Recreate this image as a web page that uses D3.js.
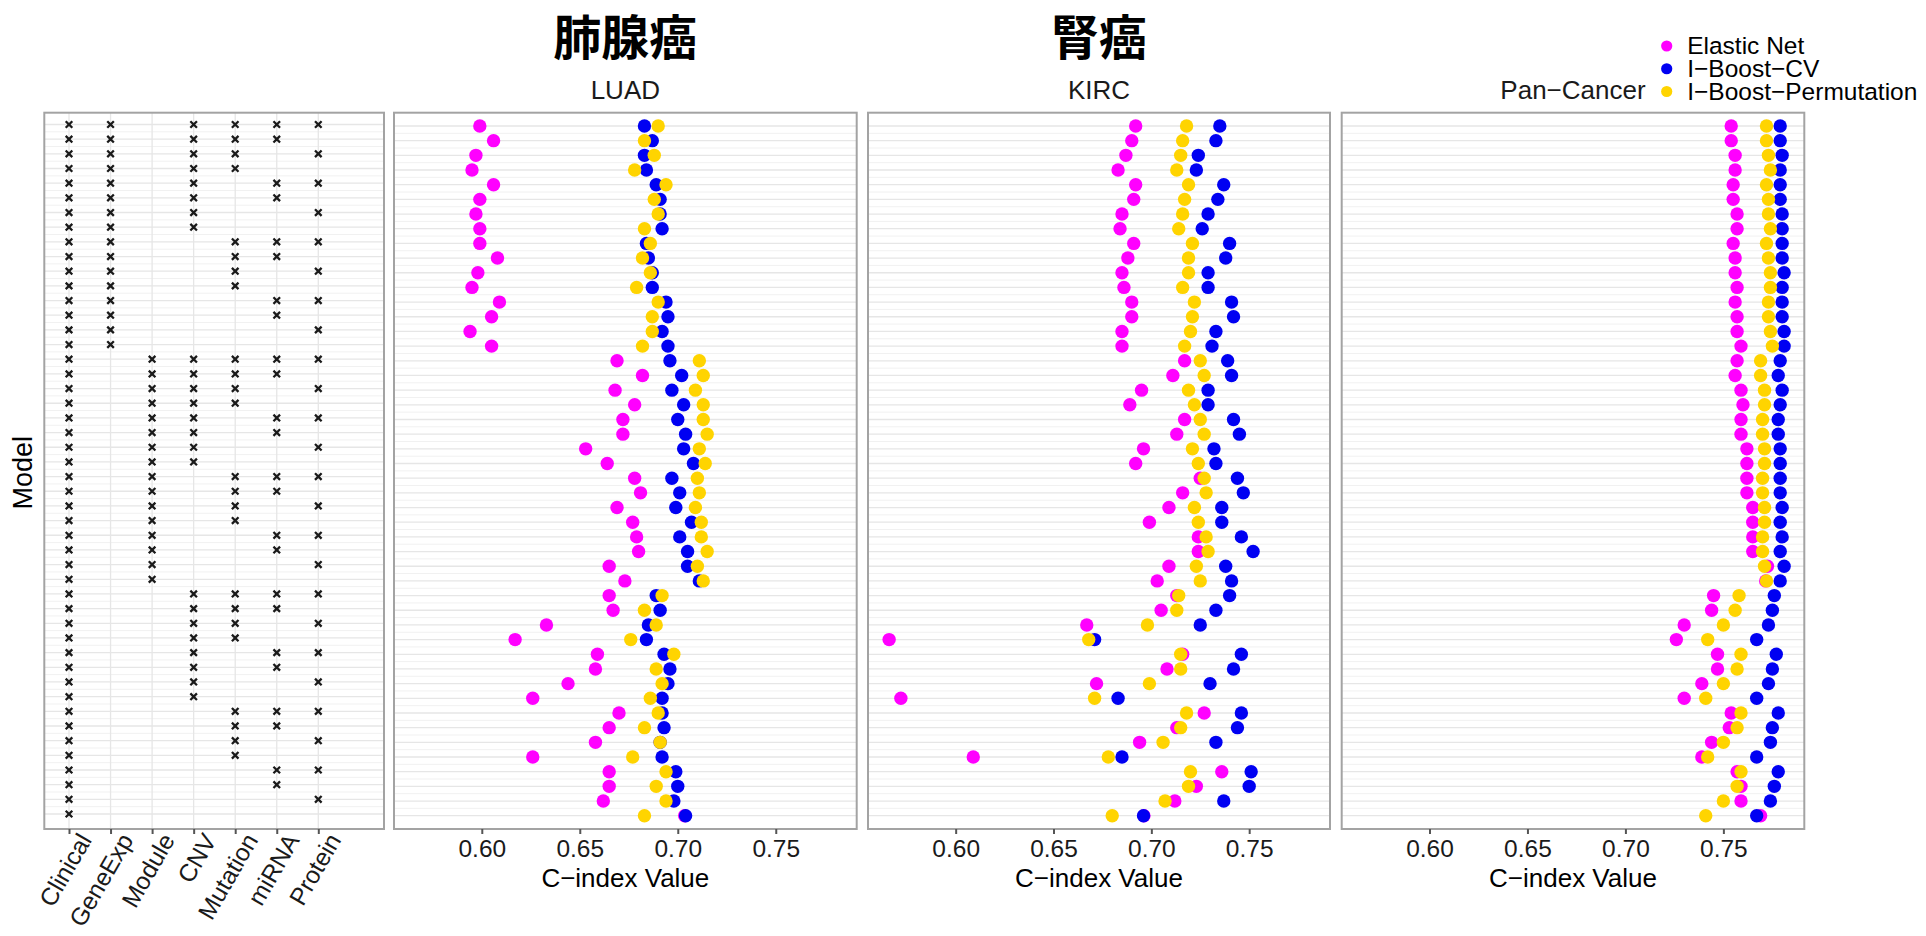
<!DOCTYPE html>
<html>
<head>
<meta charset="utf-8">
<script src="https://cdn.jsdelivr.net/npm/d3@7"></script>
<style>
  body { margin: 0; background: #fff; }
  svg { display: block; }
</style>
</head>
<body>
<svg id="chart" width="1926" height="936"></svg>
<script>
// ---- data -------------------------------------------------------------
const dataTypes = ["Clinical", "GeneExp", "Module", "CNV", "Mutation", "miRNA", "Protein"];

const models = [
  "Clinical+GeneExp+CNV+Mutation+miRNA+Protein",
  "Clinical+GeneExp+CNV+Mutation+miRNA",
  "Clinical+GeneExp+CNV+Mutation+Protein",
  "Clinical+GeneExp+CNV+Mutation",
  "Clinical+GeneExp+CNV+miRNA+Protein",
  "Clinical+GeneExp+CNV+miRNA",
  "Clinical+GeneExp+CNV+Protein",
  "Clinical+GeneExp+CNV",
  "Clinical+GeneExp+Mutation+miRNA+Protein",
  "Clinical+GeneExp+Mutation+miRNA",
  "Clinical+GeneExp+Mutation+Protein",
  "Clinical+GeneExp+Mutation",
  "Clinical+GeneExp+miRNA+Protein",
  "Clinical+GeneExp+miRNA",
  "Clinical+GeneExp+Protein",
  "Clinical+GeneExp",
  "Clinical+Module+CNV+Mutation+miRNA+Protein",
  "Clinical+Module+CNV+Mutation+miRNA",
  "Clinical+Module+CNV+Mutation+Protein",
  "Clinical+Module+CNV+Mutation",
  "Clinical+Module+CNV+miRNA+Protein",
  "Clinical+Module+CNV+miRNA",
  "Clinical+Module+CNV+Protein",
  "Clinical+Module+CNV",
  "Clinical+Module+Mutation+miRNA+Protein",
  "Clinical+Module+Mutation+miRNA",
  "Clinical+Module+Mutation+Protein",
  "Clinical+Module+Mutation",
  "Clinical+Module+miRNA+Protein",
  "Clinical+Module+miRNA",
  "Clinical+Module+Protein",
  "Clinical+Module",
  "Clinical+CNV+Mutation+miRNA+Protein",
  "Clinical+CNV+Mutation+miRNA",
  "Clinical+CNV+Mutation+Protein",
  "Clinical+CNV+Mutation",
  "Clinical+CNV+miRNA+Protein",
  "Clinical+CNV+miRNA",
  "Clinical+CNV+Protein",
  "Clinical+CNV",
  "Clinical+Mutation+miRNA+Protein",
  "Clinical+Mutation+miRNA",
  "Clinical+Mutation+Protein",
  "Clinical+Mutation",
  "Clinical+miRNA+Protein",
  "Clinical+miRNA",
  "Clinical+Protein",
  "Clinical"
];

const cancers = ["LUAD", "KIRC", "Pan\u2212Cancer"];
const cancerTitles = ["肺腺癌", "腎癌", ""];
const methods = ["Elastic Net", "I\u2212Boost\u2212CV", "I\u2212Boost\u2212Permutation"];
const methodColors = ["#ff00ff", "#0000f2", "#ffd400"];
const xTicks = [0.60, 0.65, 0.70, 0.75];

// C-index per model (same order as `models`)
const luadElasticNet = [
  0.599, 0.606, 0.597, 0.595, 0.606, 0.599, 0.597, 0.599, 0.599, 0.608, 0.598, 0.595, 0.609, 0.605, 0.594, 0.605,
  0.669, 0.682, 0.668, 0.678, 0.672, 0.672, 0.653, 0.664, 0.678, 0.681, 0.669, 0.677, 0.679, 0.680, 0.665, 0.673,
  0.665, 0.667, 0.633, 0.617, 0.659, 0.658, 0.644, 0.626, 0.670, 0.665, 0.658, 0.626, 0.665, 0.665, 0.662, 0.7035
];
const luadBoostCV = [
  0.683, 0.687, 0.683, 0.684, 0.689, 0.691, 0.691, 0.692, 0.684, 0.685, 0.687, 0.687, 0.694, 0.695, 0.692, 0.695,
  0.696, 0.702, 0.697, 0.703, 0.700, 0.704, 0.703, 0.708, 0.697, 0.701, 0.699, 0.707, 0.701, 0.705, 0.705, 0.711,
  0.689, 0.691, 0.685, 0.684, 0.693, 0.696, 0.695, 0.692, 0.692, 0.693, 0.691, 0.692, 0.699, 0.700, 0.698, 0.704
];
const luadBoostPerm = [
  0.690, 0.683, 0.688, 0.678, 0.694, 0.688, 0.690, 0.683, 0.686, 0.682, 0.686, 0.679, 0.690, 0.687, 0.687, 0.682,
  0.711, 0.713, 0.709, 0.713, 0.713, 0.715, 0.711, 0.714, 0.710, 0.711, 0.709, 0.712, 0.712, 0.715, 0.710, 0.713,
  0.692, 0.683, 0.689, 0.676, 0.698, 0.689, 0.692, 0.686, 0.690, 0.683, 0.691, 0.677, 0.694, 0.689, 0.694, 0.683
];

const kircElasticNet = [
  0.692, 0.690, 0.687, 0.683, 0.692, 0.691, 0.685, 0.684, 0.691, 0.688, 0.685, 0.686, 0.690, 0.690, 0.685, 0.685,
  0.717, 0.711, 0.695, 0.689, 0.717, 0.713, 0.696, 0.692, 0.725, 0.716, 0.709, 0.699, 0.724, 0.724, 0.709, 0.703,
  0.713, 0.705, 0.667, 0.566, 0.716, 0.708, 0.672, 0.572, 0.727, 0.713, 0.694, 0.609, 0.736, 0.723, 0.712, 0.6962
];
const kircBoostCV = [
  0.735, 0.733, 0.724, 0.723, 0.737, 0.734, 0.729, 0.726, 0.740, 0.738, 0.729, 0.729, 0.741, 0.742, 0.733, 0.731,
  0.739, 0.741, 0.729, 0.729, 0.742, 0.745, 0.732, 0.733, 0.744, 0.747, 0.736, 0.736, 0.746, 0.752, 0.738, 0.741,
  0.740, 0.733, 0.725, 0.671, 0.746, 0.742, 0.730, 0.683, 0.746, 0.744, 0.733, 0.685, 0.751, 0.750, 0.737, 0.696
];
const kircBoostPerm = [
  0.718, 0.716, 0.715, 0.713, 0.719, 0.717, 0.716, 0.714, 0.721, 0.719, 0.719, 0.716, 0.722, 0.721, 0.720, 0.717,
  0.725, 0.727, 0.719, 0.722, 0.725, 0.727, 0.721, 0.724, 0.727, 0.728, 0.722, 0.724, 0.728, 0.729, 0.723, 0.725,
  0.714, 0.713, 0.698, 0.668, 0.715, 0.715, 0.699, 0.671, 0.718, 0.715, 0.706, 0.678, 0.720, 0.719, 0.707, 0.680
];

const panElasticNet = [
  0.754, 0.754, 0.756, 0.756, 0.755, 0.755, 0.757, 0.757, 0.755, 0.756, 0.756, 0.757, 0.756, 0.757, 0.757, 0.759,
  0.757, 0.756, 0.759, 0.760, 0.759, 0.759, 0.762, 0.762, 0.762, 0.762, 0.765, 0.765, 0.765, 0.765, 0.7725, 0.7716,
  0.745, 0.744, 0.730, 0.726, 0.747, 0.747, 0.739, 0.730, 0.754, 0.753, 0.744, 0.739, 0.757, 0.759, 0.759, 0.769
];
const panBoostCV = [
  0.779, 0.779, 0.780, 0.779, 0.779, 0.779, 0.780, 0.780, 0.780, 0.780, 0.781, 0.780, 0.780, 0.780, 0.781, 0.781,
  0.779, 0.778, 0.780, 0.779, 0.778, 0.778, 0.779, 0.779, 0.779, 0.779, 0.780, 0.779, 0.780, 0.779, 0.781, 0.779,
  0.776, 0.775, 0.773, 0.767, 0.777, 0.775, 0.773, 0.767, 0.778, 0.775, 0.774, 0.767, 0.778, 0.776, 0.774, 0.767
];
const panBoostPerm = [
  0.772, 0.772, 0.773, 0.774, 0.772, 0.773, 0.773, 0.774, 0.772, 0.773, 0.774, 0.774, 0.773, 0.773, 0.774, 0.775,
  0.769, 0.769, 0.771, 0.771, 0.770, 0.770, 0.771, 0.771, 0.770, 0.770, 0.771, 0.771, 0.770, 0.770, 0.771, 0.772,
  0.758, 0.756, 0.750, 0.742, 0.759, 0.757, 0.750, 0.741, 0.759, 0.757, 0.750, 0.742, 0.759, 0.757, 0.750, 0.741
];

const cancerSeries = [
  [luadElasticNet, luadBoostCV, luadBoostPerm],
  [kircElasticNet, kircBoostCV, kircBoostPerm],
  [panElasticNet, panBoostCV, panBoostPerm]
];

// ---- layout -----------------------------------------------------------
const svg = d3.select("#chart");
const panelTop = 112.7, panelBottom = 829;
const matrixPanel = { x0: 44.3, x1: 384 };
const dataPanels = [
  { x0: 394, x1: 856.7 },
  { x0: 868, x1: 1330 },
  { x0: 1341.7, x1: 1804.3 }
];
const latin = "'Liberation Sans', Arial, Helvetica, sans-serif";
const cjk = "'Noto Sans CJK JP', 'Noto Sans CJK SC', sans-serif";
const gridColor = "#e6e6e6";
const minorGridColor = "#f1f1f1";
const borderColor = "#a3a3a3";

svg.append("rect").attr("width", 1926).attr("height", 936).attr("fill", "#fff");

const yData = d3.scalePoint().domain(models).range([126, 815.7]);
const yMatrix = d3.scalePoint().domain(models).range([124.5, 814]);
const xMatrix = d3.scalePoint().domain(dataTypes).range([69, 318.3]);

// horizontal guides at every model row and half-way between rows
function rowGrid(g, y, x0, x1) {
  const step = y.step();
  g.selectAll("line.minor").data(models.slice(1)).join("line")
    .attr("class", "minor")
    .attr("x1", x0).attr("x2", x1)
    .attr("y1", d => y(d) - step / 2).attr("y2", d => y(d) - step / 2)
    .attr("stroke", minorGridColor).attr("stroke-width", 1);
  g.selectAll("line.major").data(models).join("line")
    .attr("class", "major")
    .attr("x1", x0).attr("x2", x1)
    .attr("y1", d => y(d)).attr("y2", d => y(d))
    .attr("stroke", gridColor).attr("stroke-width", 1.3);
}

// ---- model composition matrix -----------------------------------------
const mg = svg.append("g");
rowGrid(mg, yMatrix, matrixPanel.x0, matrixPanel.x1);
mg.selectAll("line.vgrid").data(dataTypes).join("line")
  .attr("class", "vgrid")
  .attr("x1", d => xMatrix(d)).attr("x2", d => xMatrix(d))
  .attr("y1", panelTop).attr("y2", panelBottom)
  .attr("stroke", gridColor).attr("stroke-width", 1.3);

const cells = [];
models.forEach(m => m.split("+").forEach(t => cells.push({ model: m, type: t })));
const cross = 3.3;
mg.selectAll("path.cell").data(cells).join("path")
  .attr("class", "cell")
  .attr("transform", d => `translate(${xMatrix(d.type)},${yMatrix(d.model)})`)
  .attr("d", `M${-cross},${-cross}L${cross},${cross}M${-cross},${cross}L${cross},${-cross}`)
  .attr("stroke", "#1a1a1a").attr("stroke-width", 2.3).attr("fill", "none");

mg.append("rect")
  .attr("x", matrixPanel.x0).attr("y", panelTop)
  .attr("width", matrixPanel.x1 - matrixPanel.x0).attr("height", panelBottom - panelTop)
  .attr("fill", "none").attr("stroke", borderColor).attr("stroke-width", 2);

const mAxis = mg.append("g")
  .attr("transform", `translate(0,${panelBottom})`)
  .call(d3.axisBottom(xMatrix).tickSize(5).tickPadding(2));
mAxis.select(".domain").remove();
mAxis.selectAll(".tick line").attr("stroke", "#555").attr("stroke-width", 2);
mAxis.selectAll(".tick text")
  .attr("font-family", latin).attr("font-size", 24.5).attr("fill", "#1a1a1a")
  .attr("text-anchor", "end")
  .attr("x", 0).attr("y", 0).attr("dy", null)
  .attr("transform", "translate(23,11) rotate(-60)");

svg.append("text")
  .attr("transform", `translate(32,${(panelTop + panelBottom) / 2 + 2}) rotate(-90)`)
  .attr("text-anchor", "middle")
  .attr("font-family", latin).attr("font-size", 27).attr("fill", "#000")
  .text("Model");

// ---- C-index panels ---------------------------------------------------
dataPanels.forEach((p, i) => {
  const x = d3.scaleLinear().domain([0.5552, 0.7913]).range([p.x0, p.x1]);
  const g = svg.append("g");

  rowGrid(g, yData, p.x0, p.x1);

  methods.forEach((meth, k) => {
    const vals = cancerSeries[i][k];
    g.selectAll(`circle.m${k}`).data(models).join("circle")
      .attr("class", `m${k}`)
      .attr("cx", (d, j) => x(vals[j]))
      .attr("cy", d => yData(d))
      .attr("r", 6.7)
      .attr("fill", methodColors[k]);
  });

  g.append("rect")
    .attr("x", p.x0).attr("y", panelTop)
    .attr("width", p.x1 - p.x0).attr("height", panelBottom - panelTop)
    .attr("fill", "none").attr("stroke", borderColor).attr("stroke-width", 2);

  const ax = g.append("g")
    .attr("transform", `translate(0,${panelBottom})`)
    .call(d3.axisBottom(x).tickValues(xTicks).tickFormat(d3.format(".2f")).tickSize(5).tickPadding(6));
  ax.select(".domain").remove();
  ax.selectAll(".tick line").attr("stroke", "#555").attr("stroke-width", 2);
  ax.selectAll(".tick text")
    .attr("font-family", latin).attr("font-size", 24.5).attr("fill", "#1a1a1a");

  const cx = (p.x0 + p.x1) / 2;
  g.append("text")
    .attr("x", cx).attr("y", 886.5)
    .attr("text-anchor", "middle")
    .attr("font-family", latin).attr("font-size", 26).attr("fill", "#000")
    .text("C\u2212index Value");

  g.append("text")
    .attr("x", cx).attr("y", 99)
    .attr("text-anchor", "middle")
    .attr("font-family", latin).attr("font-size", 26).attr("fill", "#1a1a1a")
    .text(cancers[i]);

  if (cancerTitles[i]) {
    g.append("text")
      .attr("x", cx).attr("y", 55)
      .attr("text-anchor", "middle")
      .attr("font-family", cjk).attr("font-weight", 700).attr("font-size", 48).attr("fill", "#000")
      .text(cancerTitles[i]);
  }
});

// ---- legend -----------------------------------------------------------
const legend = svg.append("g").attr("transform", "translate(1666.7,0)");
const legendY = d3.scalePoint().domain(methods).range([46, 91.5]);
legend.selectAll("circle").data(methods).join("circle")
  .attr("cx", 0).attr("cy", d => legendY(d)).attr("r", 5.6)
  .attr("fill", (d, k) => methodColors[k]);
legend.selectAll("text").data(methods).join("text")
  .attr("x", 20.5).attr("y", d => legendY(d) + 8.3)
  .attr("font-family", latin).attr("font-size", 24.5).attr("fill", "#000")
  .text(d => d);
</script>
</body>
</html>
